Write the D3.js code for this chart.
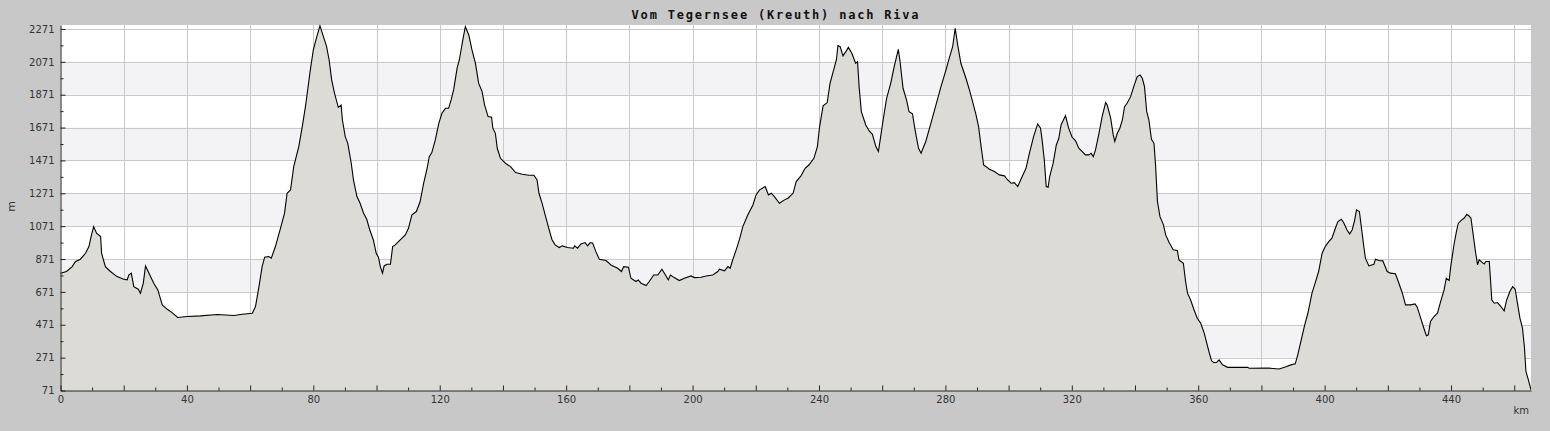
<!DOCTYPE html>
<html>
<head>
<meta charset="utf-8">
<script src="https://cdn.jsdelivr.net/npm/d3@7"></script>
<style>
  html, body { margin: 0; padding: 0; background: #c8c8c8; }
  svg { display: block; }
</style>
</head>
<body>
<svg id="chart" width="1550" height="431"></svg>
<script>
// ---- DATA ----
const title = "Vom Tegernsee (Kreuth) nach Riva";
const xLabel = "km";
const yLabel = "m";
const xTickLabels = [0, 40, 80, 120, 160, 200, 240, 280, 320, 360, 400, 440];
const yTickLabels = [71, 271, 471, 671, 871, 1071, 1271, 1471, 1671, 1871, 2071, 2271];
const distanceKm = [
  0,1.9,3.7,4.7,6.3,7.9,9,9.8,10.5,11.4,12.7,13,14.2,15.8,17.9,20,21.1,21.6,22.4,23.2,24.6,25.3,26.2,26.9,28,29.5,30.8,32.2,33.8,35.3,37.1,40.1,44.3,49.6,54.9,57.5,60.7,61.7,62.8,63.8,64.6,65.9,66.7,68,69.6,70.9,71.7,72.8,73.8,75.4,76.5,77.6,79,
  80,81.1,82.1,83.2,84.2,85,85.8,86.7,87.9,88.8,89.2,90.1,90.9,92,92.7,93.8,94.8,95.9,96.9,97.8,99,99.9,100.6,101.2,101.9,102.4,103.3,104.4,105.1,105.9,107.5,109.1,110.1,111.2,112.6,113.8,114.9,116,116.7,117.5,118.6,119.7,
  120.7,121.8,122.8,123.6,124.4,125.5,126.2,127.3,128.1,129.2,130.2,131.3,132.3,133.4,134.2,135.3,136.4,136.8,137.6,138.2,139.2,140.8,142.4,144,146.1,148.2,149.8,150.8,151.4,152.4,153.5,154.5,155.5,156.5,157.8,158.8,
  160.4,162.3,162.7,163.6,164.7,166,166.8,167.6,168.4,169.4,170.5,172.6,174.2,176.3,177.5,178.2,179.7,180.5,182.1,182.8,183.7,185.3,186.3,187.7,189,190.3,191.6,192.3,193,194.2,195.8,197.4,199.5,
  200.6,202.7,204.3,206.4,208,208.5,210.1,211.2,211.9,212.7,213.8,214.8,215.9,217.5,219.1,220.1,221.2,223,224,224.9,225.7,227.5,229.1,230.2,231.8,232.8,234.3,235.6,236.8,238.4,239.5,
  240.2,241.3,242.6,243.5,244.8,245.5,246,246.7,247.6,248.5,249.3,250.4,251.6,252.2,252.7,253.4,254.8,255.9,256.9,258,258.8,259.2,260.3,261.4,262.7,263.8,265.1,265.6,266.6,267.7,268.5,269.6,270.4,271.5,272.3,273.8,275.4,277,278.6,
  280.2,281.2,282.3,283.1,283.9,284.9,286.5,287.6,288.6,289.7,290.5,291.3,292.1,292.9,293.9,295.5,297.1,298.7,299.7,300.8,301.8,302.9,304.3,305.5,306.6,307.9,309.2,310.1,310.6,311.3,311.9,312.5,313,314.1,315.1,315.9,316.6,318,319,
  320.1,321.2,322.2,323.3,324.3,325.4,326.1,326.8,327.5,328.6,329.6,330.7,331.2,332.3,333.1,333.6,334.4,335.2,336,336.7,337.5,338.6,339.6,340.7,341.6,342.3,343,343.7,344.4,345.2,346,346.5,347.1,347.9,349,349.7,350.8,352.1,353.4,353.9,355.3,356,356.6,357.6,358.7,359.7,
  360.8,361.9,362.7,363.4,364.2,365,365.9,366.6,367.7,369.3,375.6,376.1,381.9,385.6,387.8,389.3,390.7,391.5,392.6,393.7,394.7,396,397,398.1,399.2,
  400.2,401.3,402.3,403.4,404.2,405.3,406,407.1,407.9,408.7,409.4,410.1,411,411.6,412.4,412.9,414,415.6,416.1,417.1,418.4,419.8,420.8,422.4,423.5,424.6,425.6,427.2,428.6,429.3,430.4,431.4,432.2,432.8,433.5,434.6,435.7,436.7,437.8,438.5,439.4,439.9,
  441,441.7,442.3,443.4,444.1,445,445.7,446.3,446.8,447.3,447.8,448.4,448.9,449.9,450.5,451,452.1,452.9,453.7,454.7,455.8,456.8,457.6,458.6,459.5,460.3,461.1,461.8,462.6,463.2,463.7,464.6,465.3
];
const elevationM = [
  785,795,825,855,870,906,947,1018,1068,1028,1008,906,825,795,764,748,744,774,785,703,687,663,724,829,785,724,683,592,565,545,515,521,525,533,527,535,541,582,703,825,882,886,876,947,1058,1150,1271,1292,1433,1555,1677,1810,2015,
  2143,2224,2290,2224,2163,2082,1961,1880,1794,1808,1717,1616,1575,1454,1352,1251,1210,1150,1113,1052,987,906,882,825,785,829,839,839,947,957,987,1018,1058,1140,1160,1221,1332,1423,1494,1519,1596,1697,
  1758,1788,1788,1839,1900,2032,2082,2204,2285,2234,2143,2062,1941,1890,1808,1738,1734,1667,1636,1545,1484,1454,1433,1397,1387,1381,1381,1352,1271,1210,1129,1058,990,957,941,951,
  941,937,951,937,963,971,951,971,967,916,870,862,835,815,795,825,821,754,734,744,724,710,734,774,774,809,768,744,774,758,740,754,768,
  758,760,768,774,795,809,799,825,815,866,927,987,1068,1140,1200,1261,1292,1312,1261,1271,1255,1210,1231,1241,1271,1342,1377,1423,1443,1484,1555,
  1677,1803,1823,1940,2032,2082,2170,2163,2107,2133,2159,2123,2062,2072,1920,1768,1687,1650,1630,1555,1525,1575,1717,1849,1940,2042,2147,2082,1910,1839,1768,1754,1657,1545,1515,1586,1697,1808,1920,
  2022,2092,2163,2275,2173,2062,1971,1900,1829,1748,1677,1555,1443,1433,1417,1403,1383,1377,1352,1332,1336,1312,1373,1423,1515,1616,1693,1667,1596,1474,1312,1308,1373,1454,1565,1606,1687,1744,1667,
  1612,1590,1545,1525,1505,1505,1515,1494,1535,1636,1738,1823,1808,1728,1626,1586,1636,1667,1717,1798,1819,1859,1920,1981,1991,1971,1920,1768,1717,1600,1575,1443,1221,1129,1079,1018,971,927,923,866,845,734,663,622,561,511,
  480,420,359,308,253,241,243,257,227,212,212,206,208,202,216,227,233,288,379,471,541,663,724,795,906,
  947,977,998,1058,1099,1113,1093,1048,1024,1048,1099,1170,1160,1068,947,876,829,839,870,862,860,795,785,781,724,663,592,592,598,578,511,450,404,410,491,521,541,612,683,754,740,825,
  967,1038,1089,1109,1119,1143,1133,1119,1048,977,906,835,866,849,841,856,856,622,602,606,582,555,622,673,703,687,592,511,450,339,187,126,75
];

// ---- LAYOUT ----
const W = 1550, H = 431;
const pL = 60.5, pR = 1531, pT = 25, pB = 390.5;
const xMax = 465.3, yMin = 71, yMax = 2295;

const svg = d3.select("#chart");
const x = d3.scaleLinear().domain([0, xMax]).range([pL, pR]);
const y = d3.scaleLinear().domain([yMin, yMax]).range([pB, pT]);

const data = distanceKm.map((d, i) => ({ km: d, m: elevationM[i] }));

svg.append("rect").attr("x", 0).attr("y", 0).attr("width", W).attr("height", H).attr("fill", "#c8c8c8");
svg.append("rect").attr("x", pL).attr("y", pT).attr("width", pR - pL).attr("height", pB - pT).attr("fill", "#ffffff");

// alternating bands
const bandStarts = d3.range(271, 2271, 400);
svg.append("g").selectAll("rect").data(bandStarts).join("rect")
  .attr("x", pL).attr("width", pR - pL)
  .attr("y", d => y(d + 200)).attr("height", d => y(d) - y(d + 200))
  .attr("fill", "#f3f2f5");

// grid
const gridX = d3.range(20, xMax, 20);
const gridY = d3.range(271, 2272, 200);
const grid = svg.append("g").attr("stroke", "#c9c9cb").attr("stroke-width", 1);
grid.selectAll(".gx").data(gridX).join("line").attr("class", "gx")
  .attr("x1", d => Math.round(x(d)) + 0.5).attr("x2", d => Math.round(x(d)) + 0.5)
  .attr("y1", pT).attr("y2", pB);
grid.selectAll(".gy").data(gridY).join("line").attr("class", "gy")
  .attr("x1", pL).attr("x2", pR)
  .attr("y1", d => Math.round(y(d)) + 0.5).attr("y2", d => Math.round(y(d)) + 0.5);

// area + line
const area = d3.area().x(d => x(d.km)).y0(y(yMin)).y1(d => y(d.m));
const line = d3.line().x(d => x(d.km)).y(d => y(d.m));
svg.append("path").datum(data).attr("d", area).attr("fill", "#dcdbd6");
svg.append("path").datum(data).attr("d", line).attr("fill", "none").attr("stroke", "#000").attr("stroke-width", 1.1);

// cover right overflow
svg.append("rect").attr("x", pR).attr("y", 0).attr("width", W - pR).attr("height", H).attr("fill", "#c8c8c8");

// axes
const fontAxis = "DejaVu Sans, sans-serif";
const yMinor = svg.append("g").attr("transform", `translate(${pL},0)`)
  .call(d3.axisLeft(y).tickValues(d3.range(171, 2295, 200)).tickSize(-3).tickFormat(""));
const yAxis = svg.append("g").attr("transform", `translate(${pL},0)`)
  .call(d3.axisLeft(y).tickValues(yTickLabels).tickSizeInner(-5).tickSizeOuter(0).tickPadding(6).tickFormat(d3.format("d")));
const xMinor = svg.append("g").attr("transform", `translate(0,${pB})`)
  .call(d3.axisBottom(x).tickValues(d3.range(10, xMax, 20)).tickSize(-3).tickFormat(""));
const xAxis = svg.append("g").attr("transform", `translate(0,${pB})`)
  .call(d3.axisBottom(x).tickValues(d3.range(0, xMax, 20)).tickSizeInner(-5).tickSizeOuter(0).tickPadding(5)
    .tickFormat(d => xTickLabels.includes(d) ? String(d) : ""));
[yMinor, yAxis, xMinor, xAxis].forEach(g => {
  g.select(".domain").attr("stroke", "#222");
  g.selectAll(".tick line").attr("stroke", "#222");
  g.selectAll("text").attr("fill", "#333").style("font-family", fontAxis).style("font-size", "10px");
});
yMinor.select(".domain").remove();
xMinor.select(".domain").remove();

// labels
svg.append("text").attr("x", 1529).attr("y", 414).attr("text-anchor", "end")
  .style("font-family", fontAxis).style("font-size", "10px").attr("fill", "#333").text(xLabel);
svg.append("text").attr("transform", "translate(14.5,206.5) rotate(-90)").attr("text-anchor", "middle")
  .style("font-family", fontAxis).style("font-size", "11px").attr("fill", "#333").text(yLabel);
svg.append("text").attr("x", 776).attr("y", 19).attr("text-anchor", "middle")
  .style("font-family", "DejaVu Sans Mono, monospace").style("font-size", "12px").style("font-weight", "bold")
  .style("letter-spacing", "1.8px").attr("fill", "#111").text(title);
</script>
</body>
</html>
